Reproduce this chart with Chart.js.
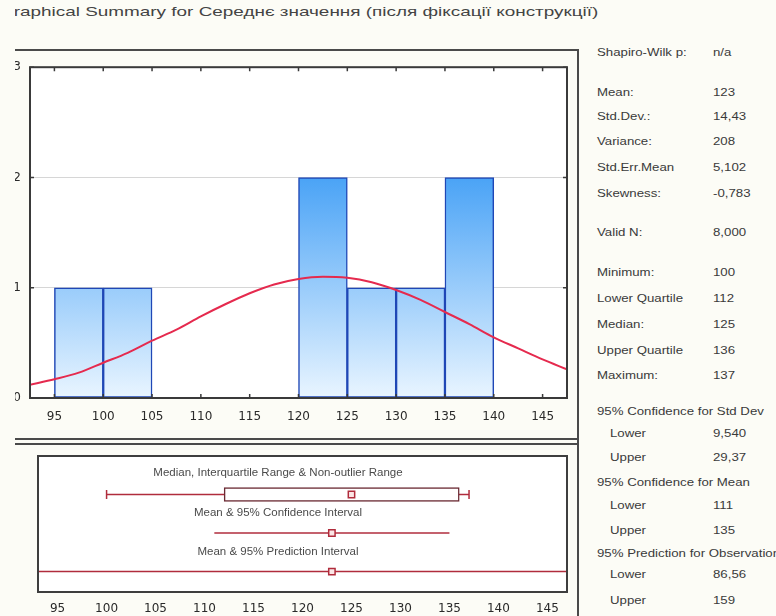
<!DOCTYPE html>
<html>
<head>
<meta charset="utf-8">
<script src="https://cdn.jsdelivr.net/npm/chart.js@4.4.1/dist/chart.umd.min.js"></script>
<style>
  html, body { margin: 0; padding: 0; background: #fcfcf6; }
  body { width: 776px; height: 616px; overflow: hidden; position: relative;
         font-family: "Liberation Sans", Arial, sans-serif; }
  #clip { position: absolute; left: 15px; top: 0; width: 761px; height: 616px; overflow: hidden; }
  #page { position: absolute; left: -15px; top: 0; width: 776px; height: 616px; }
  .abs { position: absolute; }
  .rule { position: absolute; background: #4a4a4a; }
  #title { position: absolute; top: 5px; font-size: 13.5px; line-height: 14px; color: #444444;
           white-space: nowrap; transform-origin: 0 50%; }
  .cap { position: absolute; font-size: 10px; line-height: 12px; color: #4a4a4a; white-space: nowrap;
         transform: translate(-50%, -50%) scaleX(1.15); }
  .st { position: absolute; font-size: 11.5px; line-height: 13px; color: #3a3a3a; white-space: nowrap;
        transform: translateY(-50%) scaleX(1.15); transform-origin: 0 50%; }
</style>
</head>
<body>
<div id="clip"><div id="page">
  <div id="title"><span id="tHead">G</span><span id="tRest">raphical Summary for Середнє значення (після фіксації конструкції)</span></div>

  <div class="rule" style="left:0;top:49px;width:579px;height:2px"></div>
  <div class="rule" style="left:577px;top:49px;width:2px;height:567px"></div>
  <div class="rule" style="left:0;top:438px;width:579px;height:2px"></div>
  <div class="rule" style="left:0;top:443px;width:579px;height:2px"></div>

  <div class="abs" style="left:0;top:51px;width:577px;height:387px"><canvas id="hist" width="577" height="387"></canvas></div>
  <div class="abs" style="left:0;top:445px;width:577px;height:171px"><canvas id="box" width="577" height="171"></canvas></div>

  <div id="captions"></div>
  <div id="stats"></div>
</div></div>

<script>
// Histogram bins (start of each 5-unit bin) and counts
const binStarts = [95, 100, 105, 110, 115, 120, 125, 130, 135];
const binCounts = [1, 1, 0, 0, 0, 2, 1, 1, 2];
const binWidth = 5;

// Fitted normal curve, sampled along the axis
const curveX = [92.5, 95, 97.5, 100, 102.5, 105, 107.5, 110, 112.5, 115, 117.5, 120,
                122.5, 125, 127.5, 130, 132.5, 135, 137.5, 140, 142.5, 145, 147.5];
const curveY = [0.12, 0.17, 0.23, 0.32, 0.41, 0.52, 0.62, 0.74, 0.85, 0.95, 1.03, 1.08,
                1.10, 1.09, 1.05, 0.98, 0.89, 0.78, 0.67, 0.55, 0.45, 0.35, 0.26];

// Axis tick labels
const xTicks = [95, 100, 105, 110, 115, 120, 125, 130, 135, 140, 145];
const yTicks = [0, 1, 2, 3];

// Descriptive statistics
const minimum = 100, lowerQuartile = 112, median = 125, upperQuartile = 136, maximum = 137;
const mean = 123;
const meanCiLower = 111, meanCiUpper = 135;
const predLower = 86.56, predUpper = 159;

// Interval-plot captions
const captionTexts = [
  'Median, Interquartile Range & Non-outlier Range',
  'Mean & 95% Confidence Interval',
  'Mean & 95% Prediction Interval'
];

// Statistics table: label, value, indented
const statLabels = ['Shapiro-Wilk p:', 'Mean:', 'Std.Dev.:', 'Variance:', 'Std.Err.Mean', 'Skewness:',
  'Valid N:', 'Minimum:', 'Lower Quartile', 'Median:', 'Upper Quartile', 'Maximum:',
  '95% Confidence for Std Dev', 'Lower', 'Upper', '95% Confidence for Mean', 'Lower', 'Upper',
  '95% Prediction for Observation', 'Lower', 'Upper'];
const statValues = ['n/a', '123', '14,43', '208', '5,102', '-0,783',
  '8,000', '100', '112', '125', '136', '137',
  '', '9,540', '29,37', '', '111', '135',
  '', '86,56', '159'];
const statIndent = [0,0,0,0,0,0, 0,0,0,0,0,0, 0,1,1,0,1,1, 0,1,1];

// ---- layout of the text blocks ----
const statRowY = [52, 92, 116, 141, 167, 193, 232, 272, 298, 324, 350, 375,
                  411, 433, 457, 482, 505, 530, 553, 574, 600];
const statsHtml = statLabels.map((lab, i) => {
  const lx = statIndent[i] ? 610 : 597;
  let s = `<div class="st" style="left:${lx}px;top:${statRowY[i]}px">${lab}</div>`;
  if (statValues[i]) s += `<div class="st" style="left:713px;top:${statRowY[i]}px">${statValues[i]}</div>`;
  return s;
}).join('');
document.getElementById('stats').innerHTML = statsHtml;

const captionY = [473, 513, 552];
document.getElementById('captions').innerHTML = captionTexts.map((t, i) =>
  `<div class="cap" style="left:278px;top:${captionY[i]}px">${t}</div>`).join('');

// Title: stretch so the visible part spans the header width
function fitTitle() {
  const title = document.getElementById('title');
  title.style.transform = 'none';
  const headW = document.getElementById('tHead').offsetWidth;
  const restW = document.getElementById('tRest').offsetWidth;
  const s = (598 - 14) / restW;
  title.style.transform = `scaleX(${s})`;
  title.style.left = (14 - headW * s) + 'px';
}
fitTitle();
if (document.fonts && document.fonts.ready) document.fonts.ready.then(fitTitle);

// ---- chart helpers ----
const tickFont = { family: 'DejaVu Sans', size: 12 };

const plotFrame = {
  id: 'plotFrame',
  beforeDraw(chart) {
    const { ctx, chartArea: a } = chart;
    ctx.save();
    ctx.fillStyle = '#ffffff';
    ctx.fillRect(a.left, a.top, a.width, a.height);
    ctx.restore();
  },
  afterDraw(chart, args, opts) {
    const { ctx, chartArea: a, scales } = chart;
    ctx.save();
    ctx.strokeStyle = opts.color;
    ctx.lineWidth = opts.width;
    ctx.strokeRect(a.left, a.top, a.width, a.height);
    if (opts.innerTicks) {
      const L = opts.innerTicks;
      ctx.lineWidth = 1.5;
      ctx.beginPath();
      scales.x.ticks.forEach(t => {
        const px = scales.x.getPixelForValue(t.value);
        ctx.moveTo(px, a.bottom); ctx.lineTo(px, a.bottom - L);
        ctx.moveTo(px, a.top); ctx.lineTo(px, a.top + L);
      });
      scales.y.ticks.forEach(t => {
        const py = scales.y.getPixelForValue(t.value);
        ctx.moveTo(a.left, py); ctx.lineTo(a.left + L, py);
        ctx.moveTo(a.right, py); ctx.lineTo(a.right - L, py);
      });
      ctx.stroke();
    }
    ctx.restore();
  }
};

function barFill(c) {
  const ch = c.chart;
  if (!ch.chartArea) return '#8cc4fa';
  const y = ch.scales.y;
  const g = ch.ctx.createLinearGradient(0, y.getPixelForValue(0), 0, y.getPixelForValue(2));
  g.addColorStop(0, '#e9f5ff');
  g.addColorStop(1, '#4aa3f6');
  return g;
}

const setXTicks = s => { s.ticks = xTicks.map(v => ({ value: v })); };

// ---- histogram with normal fit ----
const barData = binStarts
  .map((s, i) => ({ x: s + binWidth / 2, y: binCounts[i] }))
  .filter(d => d.y > 0);

new Chart(document.getElementById('hist'), {
  type: 'bar',
  data: {
    datasets: [
      {
        type: 'line',
        data: curveX.map((x, i) => ({ x, y: curveY[i] })),
        borderColor: '#e52a4e',
        borderWidth: 2,
        pointRadius: 0,
        cubicInterpolationMode: 'monotone',
        order: 0
      },
      {
        type: 'bar',
        data: barData,
        backgroundColor: barFill,
        borderColor: '#1f47b6',
        borderWidth: 1.5,
        borderSkipped: false,
        barPercentage: 1,
        categoryPercentage: 1,
        order: 1
      }
    ]
  },
  options: {
    responsive: false,
    animation: false,
    layout: { padding: { left: 0, right: 10, top: 16, bottom: 0 } },
    plugins: {
      legend: { display: false },
      tooltip: { enabled: false },
      plotFrame: { color: '#3a3a3a', width: 2, innerTicks: 4 }
    },
    scales: {
      x: {
        type: 'linear', min: 92.5, max: 147.5, offset: false,
        afterBuildTicks: setXTicks,
        afterFit: s => { s.height = 40; },
        grid: { display: false, drawTicks: false, offset: false },
        border: { display: false },
        ticks: { padding: 12, font: tickFont, color: '#2a2a2a', maxRotation: 0, autoSkip: false }
      },
      y: {
        type: 'linear', min: 0, max: 3, offset: false,
        afterBuildTicks: s => { s.ticks = yTicks.map(v => ({ value: v })); },
        afterFit: s => { s.width = 30; },
        grid: {
          drawTicks: false,
          color: c => (c.tick && (c.tick.value === 1 || c.tick.value === 2)) ? '#d6d6d6' : 'rgba(0,0,0,0)',
          lineWidth: 1
        },
        border: { display: false },
        ticks: { padding: 9, font: tickFont, color: '#2a2a2a' }
      }
    }
  },
  plugins: [plotFrame]
});

// ---- interval plot (box, confidence and prediction intervals) ----
const red = '#b02c3c';
const markerStyle = {
  type: 'line', showLine: false, pointStyle: 'rect', pointRadius: 4.5,
  pointBackgroundColor: '#fbe6e6', pointBorderColor: red, pointBorderWidth: 1.5, order: 0
};

new Chart(document.getElementById('box'), {
  type: 'line',
  data: {
    datasets: [
      { type: 'bar', indexAxis: 'y', data: [{ x: [lowerQuartile, upperQuartile], y: 1 }],
        backgroundColor: '#ffffff', borderColor: '#6a2a33', borderWidth: 1.5,
        borderSkipped: false, barThickness: 14, order: 1 },
      { type: 'line', data: [{ x: minimum, y: 1 }, { x: maximum, y: 1 }],
        borderColor: red, borderWidth: 1.5, pointRadius: 0, order: 2 },
      { type: 'line', showLine: false, data: [{ x: minimum, y: 1 }, { x: maximum, y: 1 }],
        pointStyle: 'line', rotation: 90, pointRadius: 4.5, pointBorderColor: red,
        pointBorderWidth: 1.5, order: 0 },
      Object.assign({ data: [{ x: median, y: 1 }] }, markerStyle),
      { type: 'line', data: [{ x: meanCiLower, y: 2 }, { x: meanCiUpper, y: 2 }],
        borderColor: red, borderWidth: 1.5, pointRadius: 0, order: 2 },
      Object.assign({ data: [{ x: mean, y: 2 }] }, markerStyle),
      { type: 'line', data: [{ x: predLower, y: 3 }, { x: predUpper, y: 3 }],
        borderColor: red, borderWidth: 1.5, pointRadius: 0, order: 2 },
      Object.assign({ data: [{ x: mean, y: 3 }] }, markerStyle)
    ]
  },
  options: {
    responsive: false,
    animation: false,
    layout: { padding: { left: 38, right: 10, top: 11, bottom: 0 } },
    plugins: {
      legend: { display: false },
      tooltip: { enabled: false },
      plotFrame: { color: '#3e3e3e', width: 2, innerTicks: 0 }
    },
    scales: {
      x: {
        type: 'linear', min: 93, max: 147, offset: false,
        afterBuildTicks: setXTicks,
        afterFit: s => { s.height = 24; },
        grid: { display: false, drawTicks: false },
        border: { display: false },
        ticks: { padding: 10, font: tickFont, color: '#2a2a2a', maxRotation: 0, autoSkip: false }
      },
      y: { type: 'linear', min: 0, max: 3.53, reverse: true, offset: false, display: false }
    }
  },
  plugins: [plotFrame]
});
</script>
</body>
</html>
